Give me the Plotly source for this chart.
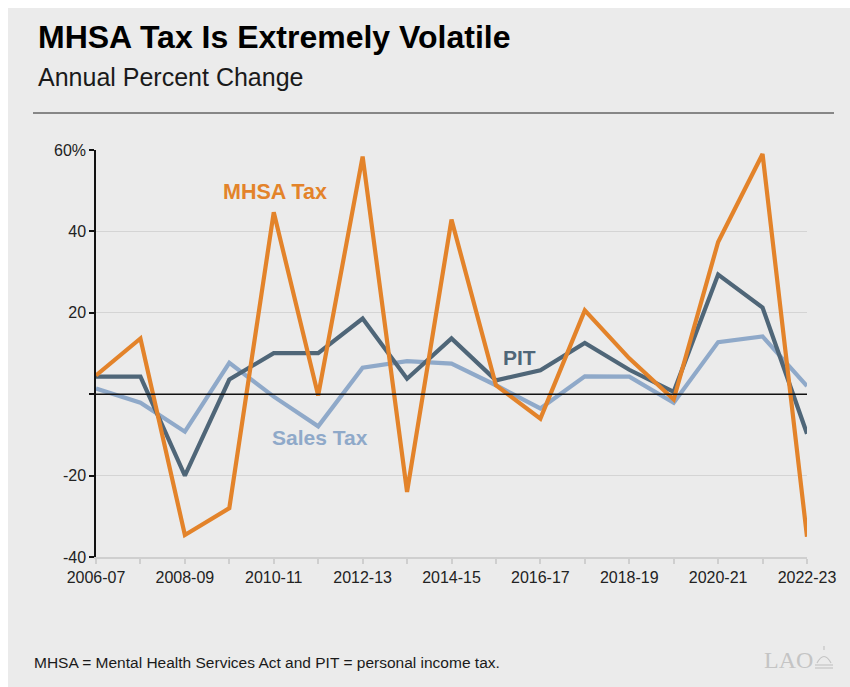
import plotly.graph_objects as go

# ---- data ----
years = ["2006-07", "2007-08", "2008-09", "2009-10", "2010-11", "2011-12", "2012-13",
         "2013-14", "2014-15", "2015-16", "2016-17", "2017-18", "2018-19", "2019-20",
         "2020-21", "2021-22", "2022-23"]
mhsa = [4.6, 13.7, -34.6, -28.0, 44.7, -0.3, 58.4, -24.0, 42.9, 2.2, -6.0, 20.6, 8.8, -1.3, 37.4, 59.0, -35.0]
pit = [4.3, 4.3, -20.0, 3.6, 10.1, 10.1, 18.6, 3.8, 13.7, 3.4, 5.9, 12.6, 6.0, 0.6, 29.4, 21.3, -9.7]
sales = [1.4, -2.1, -9.2, 7.7, -0.6, -7.9, 6.5, 8.1, 7.5, 2.2, -3.5, 4.4, 4.3, -2.1, 12.8, 14.2, 2.0]
y_ticks = [-40, -20, 0, 20, 40, 60]
y_ticktext = ["-40", "-20", "", "20", "40", "60%"]
x_ticktext = [y if i % 2 == 0 else "" for i, y in enumerate(years)]

W, H = 850, 687
OFF = 8  # page body margin
L, T = 96 - OFF, 150 - OFF
R = W - (807 - OFF)
B = H - (557 - OFF)
PW, PH = W - L - R, H - T - B

def px(x):
    return (x - OFF - L) / PW

def py(y):
    return (H - B - (y - OFF)) / PH

ORANGE = "#E3832A"
SLATE = "#4F6678"
LIGHT = "#8FA9C9"
FONT = "Liberation Sans, Arial, sans-serif"

x = list(range(len(years)))
fig = go.Figure()
fig.add_trace(go.Scatter(x=x, y=sales, mode="lines", line=dict(color=LIGHT, width=4.2), name="Sales Tax"))
fig.add_trace(go.Scatter(x=x, y=pit, mode="lines", line=dict(color=SLATE, width=4.2), name="PIT"))
fig.add_trace(go.Scatter(x=x, y=mhsa, mode="lines", line=dict(color=ORANGE, width=4.2), name="MHSA Tax"))

shapes = [
    # rule under subtitle
    dict(type="line", xref="paper", yref="paper", x0=px(33), x1=px(834), y0=py(113), y1=py(113),
         line=dict(color="#222222", width=1)),
    # zero line
    dict(type="line", xref="paper", yref="y", x0=0, x1=1, y0=0, y1=0,
         line=dict(color="#111111", width=1.5)),
    # small LAO icon
    dict(type="path", xref="paper", yref="paper",
         path=f"M {px(817)},{py(663)} Q {px(824)},{py(650)} {px(831)},{py(663)}",
         line=dict(color="#C4C4C4", width=1.2)),
    dict(type="line", xref="paper", yref="paper", x0=px(815), x1=px(833), y0=py(665), y1=py(665),
         line=dict(color="#C4C4C4", width=1.2)),
    dict(type="line", xref="paper", yref="paper", x0=px(815), x1=px(833), y0=py(668), y1=py(668),
         line=dict(color="#C4C4C4", width=1.2)),
    dict(type="line", xref="paper", yref="paper", x0=px(824), x1=px(824), y0=py(650), y1=py(646),
         line=dict(color="#C4C4C4", width=1.2)),
]

annotations = [
    dict(text="<b>MHSA Tax Is Extremely Volatile</b>", xref="paper", yref="paper", x=px(36), y=py(37),
         xanchor="left", yanchor="middle", showarrow=False, font=dict(family=FONT, size=32, color="#000000")),
    dict(text="Annual Percent Change", xref="paper", yref="paper", x=px(36), y=py(77),
         xanchor="left", yanchor="middle", showarrow=False, font=dict(family=FONT, size=25, color="#1a1a1a")),
    dict(text="MHSA = Mental Health Services Act and PIT = personal income tax.", xref="paper", yref="paper",
         x=px(32), y=py(662), xanchor="left", yanchor="middle", showarrow=False,
         font=dict(family=FONT, size=15.5, color="#1a1a1a")),
    dict(text="LAO", xref="paper", yref="paper", x=px(762), y=py(660), xanchor="left", yanchor="middle",
         showarrow=False, font=dict(family="Liberation Serif, serif", size=24, color="#C4C4C4")),
    dict(text="<b>MHSA Tax</b>", x=4.02, y=49.6, xref="x", yref="y", showarrow=False,
         font=dict(family=FONT, size=21.5, color=ORANGE)),
    dict(text="<b>Sales Tax</b>", x=5.05, y=-10.6, xref="x", yref="y", showarrow=False,
         font=dict(family=FONT, size=21, color=LIGHT)),
    dict(text="<b>PIT</b>", x=9.52, y=9.1, xref="x", yref="y", showarrow=False,
         font=dict(family=FONT, size=21, color=SLATE)),
]

fig.update_layout(
    width=W, height=H,
    margin=dict(l=L, r=R, t=T, b=B, pad=0),
    paper_bgcolor="#EBEBEB", plot_bgcolor="#EBEBEB",
    showlegend=False,
    shapes=shapes, annotations=annotations,
    font=dict(family=FONT, size=16, color="#222222"),
)
fig.update_xaxes(
    range=[0, 16], tickmode="array", tickvals=x, ticktext=x_ticktext,
    showgrid=False, zeroline=False, showline=True, linecolor="#CFCFCF", linewidth=1.5,
    ticks="outside", ticklen=5, tickcolor="#CFCFCF", tickwidth=1.5,
    tickfont=dict(family=FONT, size=16, color="#222222"),
)
fig.update_yaxes(
    range=[-40, 60], tickmode="array", tickvals=y_ticks, ticktext=y_ticktext,
    showgrid=True, gridcolor="#D4D4D4", gridwidth=1.2, zeroline=False,
    showline=True, linecolor="#111111", linewidth=1.5,
    ticks="outside", ticklen=5, tickcolor="#111111", tickwidth=1.5,
    tickfont=dict(family=FONT, size=16, color="#222222"),
)

fig.write_html(
    "out.html",
    post_script="document.documentElement.style.overflow='hidden';document.body.style.margin='8px 0 0 8px';",
)
